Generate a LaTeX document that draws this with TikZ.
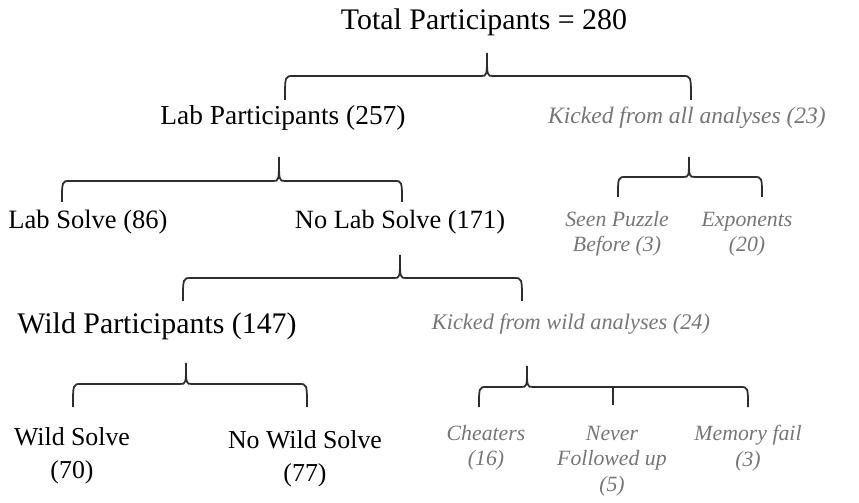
\documentclass[tikz,border=0pt]{standalone}
\usepackage{fontspec}
\setmainfont{Liberation Serif}
\usepackage{tikz}

\definecolor{kickgray}{RGB}{118,118,118}
\definecolor{bracegray}{RGB}{45,45,45}

\tikzset{
  lbl/.style={align=center, inner sep=0pt, font=\fontsize{#1}{18.7}\selectfont},
  lbl/.default=15,
  kick/.style={align=center, inner sep=0pt, text=kickgray, font=\fontsize{#1}{18}\selectfont\itshape},
  kick/.default=13,
  kicksub/.style={align=center, inner sep=0pt, text=kickgray, font=\fontsize{12.4}{14.4}\selectfont\itshape},
  brace/.style={draw=bracegray, line width=1pt}
}

% left, right, peak, line, top, bottom
\newcommand{\splitbrace}[6]{%
  \draw[brace] (#1,#6) .. controls (#1,#4) .. ({#1+8},#4) -- ({#3-6},#4)
    .. controls (#3,#4) .. (#3,#5) .. controls (#3,#4) .. ({#3+6},#4)
    -- ({#2-8},#4) .. controls (#2,#4) .. (#2,#6);}

\begin{document}
\begin{tikzpicture}[x=0.02cm,y=-0.02cm]
      \useasboundingbox (0,0) rectangle (859,503);
      % labels
      \node[lbl=17] (total) at (484,22) {Total Participants = 280};
      \node[lbl=15.6] (lab) at (283,118) {Lab Participants (257)};
      \node[kick=13.4] (kickall) at (687,118) {Kicked from all analyses (23)};
      \node[lbl=15.1] (labsolve) at (88,222) {Lab Solve (86)};
      \node[lbl=15] (nolabsolve) at (400,222) {No Lab Solve (171)};
      \node[kicksub] (seen) at (617,234) {Seen Puzzle\\Before (3)};
      \node[kicksub] (expo) at (747,234) {Exponents\\(20)};
      \node[lbl=17] (wild) at (157,326) {Wild Participants (147)};
      \node[kick=12.7] (kickwild) at (571,324) {Kicked from wild analyses (24)};
      \node[lbl=14.7] (wildsolve) at (72,456) {Wild Solve\\(70)};
      \node[lbl=14.7] (nowildsolve) at (305,459) {No Wild Solve\\(77)};
      \node[kicksub] (cheat) at (486,448) {Cheaters\\(16)};
      \node[kicksub] (never) at (612,461) {Never\\Followed up\\(5)};
      \node[kicksub] (memory) at (748,448) {Memory fail\\(3)};
      % braces
      \splitbrace{285}{691}{487}{76}{53}{100}
      \splitbrace{62}{402}{279}{181}{157}{202}
      \splitbrace{618}{762}{689}{177}{157}{197}
      \splitbrace{183}{522}{400}{278}{255}{301}
      \splitbrace{73}{307}{186}{384}{363}{407}
      \splitbrace{479}{748}{527}{387}{366}{407}
      \draw[brace] (613,387) -- (613,405);
    \end{tikzpicture}
\end{document}
